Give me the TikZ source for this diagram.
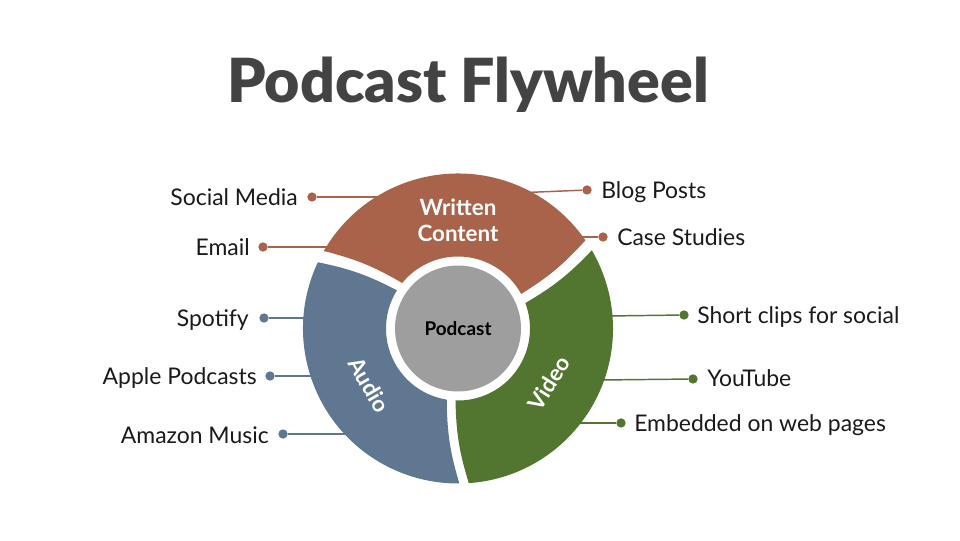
\documentclass[tikz,border=0pt]{standalone}
\usepackage{fontspec}
\setmainfont{Lato}
\newfontfamily\titlefont{Lato Black}
\definecolor{writtencol}{HTML}{A8634A}
\definecolor{audiocol}{HTML}{5F7791}
\definecolor{videocol}{HTML}{527530}
\definecolor{hubcol}{HTML}{9E9E9E}
\definecolor{titlecol}{HTML}{434343}
\definecolor{labelcol}{HTML}{1A1A1A}
\tikzset{
    dot/.style={circle, fill=#1, inner sep=0pt, minimum size=7pt},
    lead/.style={draw=#1, line width=1.1pt},
    item/.style={font=\fontsize{17.2}{19}\selectfont, text=labelcol, inner sep=0pt},
    wedgetext/.style={font=\fontsize{16.8}{19.5}\bfseries\selectfont, text=white, inner sep=0pt, align=center},
}
\begin{document}
\begin{tikzpicture}[x=0.75pt, y=0.75pt]
    \useasboundingbox (0,0) rectangle (960,540);
    \node[font=\titlefont\fontsize{45.6}{50}\selectfont, text=titlecol, inner sep=0pt, anchor=base] (title) at (468,437) {Podcast Flywheel};
    % leads sit under the wheel
    \coordinate (wsocial) at (385,343);
    \coordinate (wemail) at (330,293);
    \coordinate (wblog) at (526,347.5);
    \coordinate (wcase) at (580,303);
    \coordinate (aspotify) at (308,222);
    \coordinate (aapple) at (315,164);
    \coordinate (aamazon) at (350,106);
    \coordinate (vclips) at (607,224);
    \coordinate (vyoutube) at (600,160);
    \coordinate (vembed) at (575,117);
    \node[dot=writtencol] (dsocial) at (312,343) {};
    \node[dot=writtencol] (demail) at (263,293) {};
    \node[dot=writtencol] (dblog) at (587,350) {};
    \node[dot=writtencol] (dcase) at (603,303) {};
    \node[dot=audiocol] (dspotify) at (264,222) {};
    \node[dot=audiocol] (dapple) at (270,164) {};
    \node[dot=audiocol] (damazon) at (283,106) {};
    \node[dot=videocol] (dclips) at (684,225) {};
    \node[dot=videocol] (dyoutube) at (693,161) {};
    \node[dot=videocol] (dembed) at (621,117) {};
    \draw[lead=writtencol] (dsocial) -- (wsocial);
    \draw[lead=writtencol] (demail) -- (wemail);
    \draw[lead=writtencol] (dblog) -- (wblog);
    \draw[lead=writtencol] (dcase) -- (wcase);
    \draw[lead=audiocol] (dspotify) -- (aspotify);
    \draw[lead=audiocol] (dapple) -- (aapple);
    \draw[lead=audiocol] (damazon) -- (aamazon);
    \draw[lead=videocol] (dclips) -- (vclips);
    \draw[lead=videocol] (dyoutube) -- (vyoutube);
    \draw[lead=videocol] (dembed) -- (vembed);
    \begin{scope}[shift={(458,211.5)}]
    \fill[writtencol]
        (150:155) arc[start angle=150, end angle=34.7, radius=155]
        to[bend left=8] (28.7:72) arc[start angle=28.7, end angle=140.8, radius=72]
        to[bend right=8] cycle;
    \fill[audiocol]
        (154.7:155) arc[start angle=154.7, end angle=270.5, radius=155]
        to[bend left=8] (261:72) arc[start angle=261, end angle=148, radius=72]
        to[bend right=8] cycle;
    \fill[videocol]
        (274:155) arc[start angle=274, end angle=390.3, radius=155]
        to[bend left=8] (380.7:72) arc[start angle=380.7, end angle=268, radius=72]
        to[bend right=8] cycle;
    \node[circle, fill=hubcol, minimum size=94.5pt, inner sep=0pt, font=\fontsize{14.2}{16}\bfseries\selectfont, text=black] (hub) at (0,0) {Podcast};
    \end{scope}
    \node[wedgetext] (written) at (458,320) {Written\\Content};
    \node[wedgetext, rotate=-60] (audio) at (369,155) {Audio};
    \node[wedgetext, rotate=58] (video) at (549,157) {Video};
    \node[item, anchor=east] (lsocial) at (298,343) {Social Media};
    \node[item, anchor=east] (lemail) at (250,293) {Email};
    \node[item, anchor=west] (lblog) at (601,348) {Blog Posts};
    \node[item, anchor=west] (lcase) at (617,303) {Case Studies};
    \node[item, anchor=east] (lspotify) at (249,220) {Spotify};
    \node[item, anchor=east] (lapple) at (257,162) {Apple Podcasts};
    \node[item, anchor=east] (lamazon) at (269,105) {Amazon Music};
    \node[item, anchor=west] (lclips) at (697,223) {Short clips for social};
    \node[item, anchor=west] (lyoutube) at (707,162) {YouTube};
    \node[item, anchor=west] (lembed) at (634,115) {Embedded on web pages};
\end{tikzpicture}
\end{document}
